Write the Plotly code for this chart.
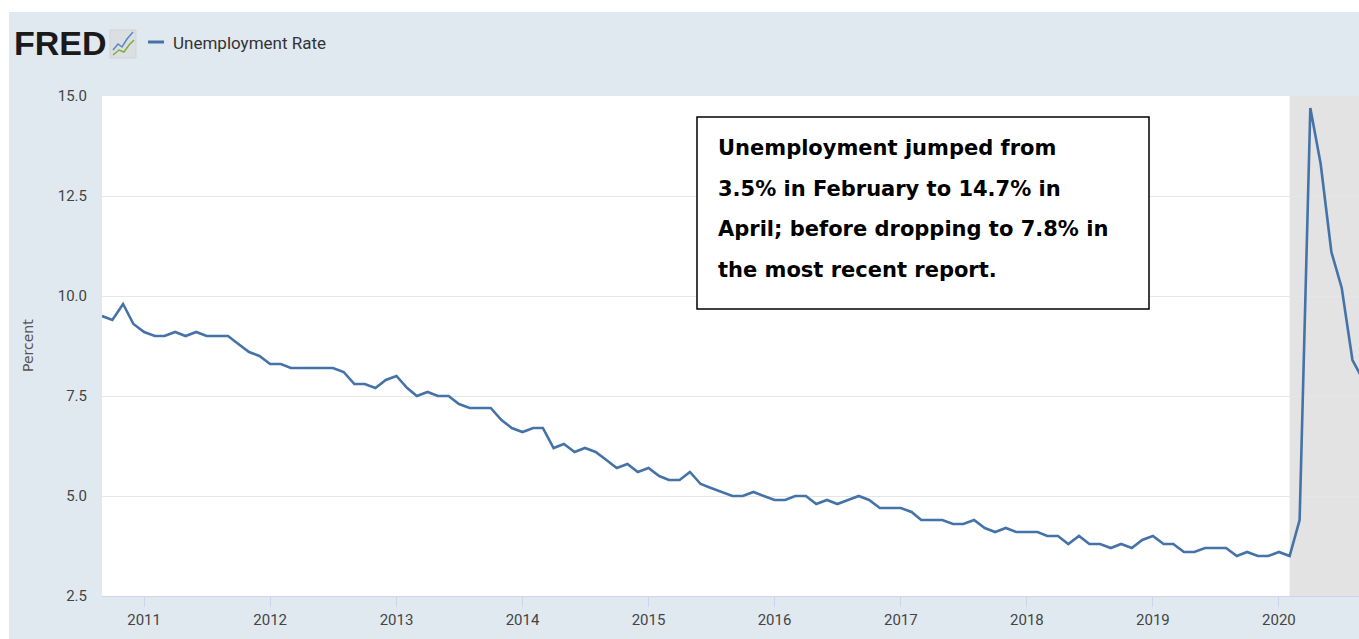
import pandas as pd
import plotly.graph_objects as go

# ---------------- data (UNRATE, monthly, Sep 2010 - Sep 2020) ----------------
start_month = "2010-09-01"
unemployment_rate = [
    9.5, 9.4, 9.8, 9.3,                                            # 2010 Sep-Dec
    9.1, 9.0, 9.0, 9.1, 9.0, 9.1, 9.0, 9.0, 9.0, 8.8, 8.6, 8.5,    # 2011
    8.3, 8.3, 8.2, 8.2, 8.2, 8.2, 8.2, 8.1, 7.8, 7.8, 7.7, 7.9,    # 2012
    8.0, 7.7, 7.5, 7.6, 7.5, 7.5, 7.3, 7.2, 7.2, 7.2, 6.9, 6.7,    # 2013
    6.6, 6.7, 6.7, 6.2, 6.3, 6.1, 6.2, 6.1, 5.9, 5.7, 5.8, 5.6,    # 2014
    5.7, 5.5, 5.4, 5.4, 5.6, 5.3, 5.2, 5.1, 5.0, 5.0, 5.1, 5.0,    # 2015
    4.9, 4.9, 5.0, 5.0, 4.8, 4.9, 4.8, 4.9, 5.0, 4.9, 4.7, 4.7,    # 2016
    4.7, 4.6, 4.4, 4.4, 4.4, 4.3, 4.3, 4.4, 4.2, 4.1, 4.2, 4.1,    # 2017
    4.1, 4.1, 4.0, 4.0, 3.8, 4.0, 3.8, 3.8, 3.7, 3.8, 3.7, 3.9,    # 2018
    4.0, 3.8, 3.8, 3.6, 3.6, 3.7, 3.7, 3.7, 3.5, 3.6, 3.5, 3.5,    # 2019
    3.6, 3.5, 4.4, 14.7, 13.3, 11.1, 10.2, 8.4, 7.9,               # 2020 Jan-Sep
]
months = pd.date_range(start_month, periods=len(unemployment_rate), freq="MS")

recession_start = "2020-02-01"
recession_end = "2020-10-01"
x_range = ["2010-09-01", "2020-08-20"]
y_ticks = [2.5, 5.0, 7.5, 10.0, 12.5, 15.0]
y_tick_labels = ["2.5", "5.0", "7.5", "10.0", "12.5", "15.0"]
year_ticks = [f"{y}-01-01" for y in range(2011, 2021)]
year_labels = [str(y) for y in range(2011, 2021)]

series_name = "Unemployment Rate"
note_lines = [
    "Unemployment jumped from",
    "3.5% in February to 14.7% in",
    "April; before dropping to 7.8% in",
    "the most recent report.",
]

# ---------------- layout helpers ----------------
W, H = 1359, 639
ML, MR, MT, MB = 102, 0, 96, 43
PW, PH = W - ML - MR, H - MT - MB


def px(x):
    return (x - ML) / PW


def py(y):
    return (H - MB - y) / PH


LINE_COLOR = "#4572a7"
BG = "#e1e9f0"
NARROW = "Liberation Sans Narrow, Arial Narrow, Roboto, sans-serif"

fig = go.Figure()
fig.add_trace(go.Scatter(
    x=months, y=unemployment_rate, mode="lines", name=series_name,
    line=dict(color=LINE_COLOR, width=2.6), showlegend=False,
    hoverinfo="x+y",
))

shapes = []
# white outer strips (top & left)
shapes.append(dict(type="rect", xref="paper", yref="paper", x0=px(0), x1=px(W),
                   y0=py(12), y1=py(0), fillcolor="white", line_width=0, layer="below"))
shapes.append(dict(type="rect", xref="paper", yref="paper", x0=px(0), x1=px(9),
                   y0=py(H), y1=py(0), fillcolor="white", line_width=0, layer="below"))
# recession shading
shapes.append(dict(type="rect", xref="x", yref="paper", x0=recession_start, x1=recession_end,
                   y0=0, y1=1, fillcolor="#e3e3e3", line_width=0, layer="between"))
# FRED icon
shapes.append(dict(type="rect", xref="paper", yref="paper", x0=px(110), x1=px(136),
                   y0=py(58), y1=py(30), fillcolor="#dcdfe2", line=dict(color="#cfd3d6", width=1),
                   layer="above"))


def path(points):
    return "M " + " L ".join(f"{px(a)},{py(b)}" for a, b in points)


shapes.append(dict(type="path", xref="paper", yref="paper",
                   path=path([(113, 50), (118, 44), (122, 47), (127, 39), (133, 32)]),
                   line=dict(color="#5b86c5", width=1.5), layer="above"))
shapes.append(dict(type="path", xref="paper", yref="paper",
                   path=path([(113, 55), (119, 50), (124, 52), (129, 45), (134, 40)]),
                   line=dict(color="#7cae3d", width=1.5), layer="above"))
# legend line
shapes.append(dict(type="line", xref="paper", yref="paper", x0=px(148), x1=px(164),
                   y0=py(42), y1=py(42), line=dict(color=LINE_COLOR, width=3)))
# note box
shapes.append(dict(type="rect", xref="paper", yref="paper", x0=px(697), x1=px(1149),
                   y0=py(309), y1=py(117), fillcolor="white",
                   line=dict(color="black", width=1.5), layer="above"))

annotations = []
annotations.append(dict(xref="paper", yref="paper", x=px(12), y=py(43), xanchor="left",
                        yanchor="middle", text="<b>FRED</b>", showarrow=False,
                        font=dict(family="Liberation Sans, Arial, sans-serif", size=34, color="#1a1a1a")))
annotations.append(dict(xref="paper", yref="paper", x=px(171), y=py(43), xanchor="left",
                        yanchor="middle", text=series_name, showarrow=False,
                        font=dict(family=NARROW, size=17, color="#333333")))
annotations.append(dict(xref="paper", yref="paper", x=px(28), y=py(346), xanchor="center",
                        yanchor="middle", text="Percent", textangle=-90, showarrow=False,
                        font=dict(family="DejaVu Sans, sans-serif", size=14, color="#555555")))
for i, line in enumerate(note_lines):
    annotations.append(dict(xref="paper", yref="paper", x=px(716), y=py(148 + 40.5 * i),
                            xanchor="left", yanchor="middle", text=f"<b>{line}</b>",
                            showarrow=False,
                            font=dict(family="DejaVu Sans, sans-serif", size=21, color="black")))

fig.update_layout(
    width=W, height=H,
    margin=dict(l=ML, r=MR, t=MT, b=MB),
    paper_bgcolor=BG, plot_bgcolor="white",
    shapes=shapes, annotations=annotations,
    showlegend=False,
    xaxis=dict(
        type="date", range=x_range, tickvals=year_ticks, ticktext=year_labels,
        showgrid=False, zeroline=False, showline=True, linecolor="#ccd6eb", linewidth=1,
        ticks="outside", ticklen=10, tickcolor="#ccd6eb", tickwidth=1,
        tickfont=dict(family=NARROW, size=15, color="#444444"),
    ),
    yaxis=dict(
        range=[2.5, 15], tickvals=y_ticks, ticktext=y_tick_labels,
        showgrid=True, gridcolor="#e6e6e6", gridwidth=1, zeroline=False,
        showline=False, ticks="", ticklabelstandoff=14,
        tickfont=dict(family=NARROW, size=15, color="#444444"),
    ),
)

fig.write_html(
    "out.html",
    config={"displayModeBar": False},
    post_script="document.body.style.margin='0';document.body.style.overflow='hidden';",
)
